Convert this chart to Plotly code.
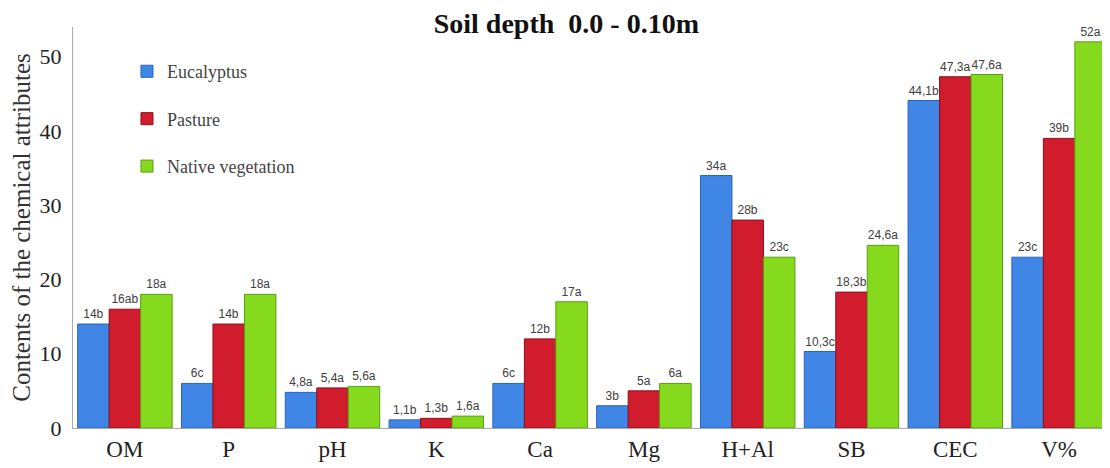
import plotly.graph_objects as go

categories = ["OM", "P", "pH", "K", "Ca", "Mg", "H+Al", "SB", "CEC", "V%"]
tick_labels = ["OM", "P", "pH", "K", "Ca", "Mg", "H+Al", "SB", "CEC", "V%"]

eucalyptus = [14, 6, 4.8, 1.1, 6, 3, 34, 10.3, 44.1, 23]
pasture = [16, 14, 5.4, 1.3, 12, 5, 28, 18.3, 47.3, 39]
native = [18, 18, 5.6, 1.6, 17, 6, 23, 24.6, 47.6, 52]

eucalyptus_labels = ["14b", "6c", "4,8a", "1,1b", "6c", "3b", "34a", "10,3c", "44,1b", "23c"]
pasture_labels = ["16ab", "14b", "5,4a", "1,3b", "12b", "5a", "28b", "18,3b", "47,3a", "39b"]
native_labels = ["18a", "18a", "5,6a", "1,6a", "17a", "6a", "23c", "24,6a", "47,6a", "52a"]

series = [
    ("Eucalyptus", eucalyptus, eucalyptus_labels, "#3f86e6", "#2a64b8"),
    ("Pasture", pasture, pasture_labels, "#d01c2c", "#8e0f1a"),
    ("Native vegetation", native, native_labels, "#86da1e", "#5a9e10"),
]

serif = "Liberation Serif, Times New Roman, serif"

fig = go.Figure()
for name, vals, labs, col, edge in series:
    fig.add_trace(go.Bar(
        x=categories, y=vals, name=name, text=labs,
        textposition="outside", cliponaxis=False,
        textfont=dict(family="Liberation Sans, Arial, sans-serif", size=12, color="#404040"),
        marker=dict(color=col, line=dict(color=edge, width=1)),
        legendgroup=name,
    ))

fig.update_layout(
    width=1110, height=468,
    margin=dict(l=65, r=7, t=19, b=48),
    paper_bgcolor="white", plot_bgcolor="white",
    barmode="group", bargap=0.09, bargroupgap=0.0,
    title=dict(text="<b>Soil depth  0.0 - 0.10m</b>", x=0.503, xanchor="center",
               y=0.968, yref="container", yanchor="middle",
               font=dict(family=serif, size=28, color="#111111")),
    showlegend=True,
    legend=dict(x=0.052, y=0.935, xanchor="left", yanchor="top",
                bgcolor="rgba(0,0,0,0)", tracegroupgap=21,
                font=dict(family=serif, size=18, color="#444444"),
                itemwidth=30),
    xaxis=dict(tickmode="array", tickvals=categories, ticktext=tick_labels,
               automargin=False,
               showline=True, linecolor="#aaaaaa", linewidth=1, ticks="",
               tickfont=dict(family=serif, size=23, color="#222222")),
    yaxis=dict(range=[0, 54], tickvals=[0, 10, 20, 30, 40, 50],
               automargin=False, ticklabelstandoff=6,
               showline=True, linecolor="#aaaaaa", linewidth=1, ticks="", showgrid=False, zeroline=False,
               tickfont=dict(family=serif, size=22, color="#222222"),
               title=dict(text="Contents of the chemical attributes", standoff=14,
                          font=dict(family=serif, size=25, color="#333333"))),
)

fig.write_html("out.html")
